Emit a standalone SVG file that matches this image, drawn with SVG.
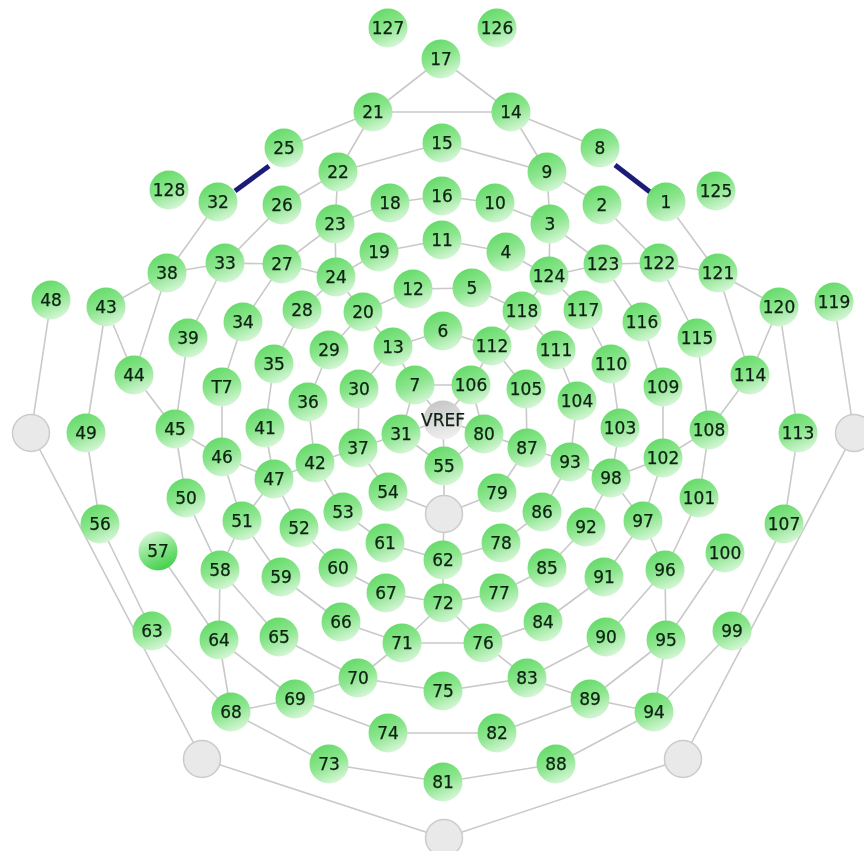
<svg xmlns="http://www.w3.org/2000/svg" width="864" height="851" viewBox="0 0 864 851">
<style>
.e{stroke:#c9c9c9;stroke-width:1.6;fill:none}
.t{stroke:#1c1c78;stroke-width:5;fill:none}
.n{fill:url(#g)}
.s{fill:url(#gs)}
.o{fill:#e9e9e9;stroke:#cbcbcb;stroke-width:1.5}
.v{fill:url(#gv)}
text{font-family:"DejaVu Sans",sans-serif;font-size:17px;fill:#0c2012;stroke:#0c2012;stroke-width:0.25;text-anchor:middle}
</style>
<defs>
<linearGradient id="g" x1="0.25" y1="0" x2="0.7" y2="1"><stop offset="0" stop-color="#62da66"/><stop offset="0.5" stop-color="#8de68f"/><stop offset="1" stop-color="#dcf7dd"/></linearGradient>
<linearGradient id="gs" x1="0.25" y1="0" x2="0.7" y2="1"><stop offset="0" stop-color="#dcf7dd"/><stop offset="0.5" stop-color="#84e487"/><stop offset="1" stop-color="#3fce48"/></linearGradient>
<linearGradient id="gv" x1="0.3" y1="0" x2="0.6" y2="1"><stop offset="0" stop-color="#c6c6c6"/><stop offset="1" stop-color="#f0f0f0"/></linearGradient>
<filter id="soft" x="-2%" y="-2%" width="104%" height="104%"><feGaussianBlur stdDeviation="0.5"/></filter>
</defs>
<rect width="864" height="851" fill="#fff"/>
<g filter="url(#soft)">
<g id="connectors">
<line class="e" x1="441" y1="59" x2="373" y2="112"/><line class="e" x1="441" y1="59" x2="511" y2="112"/><line class="e" x1="373" y1="112" x2="511" y2="112"/><line class="e" x1="373" y1="112" x2="284" y2="148"/><line class="e" x1="511" y1="112" x2="600" y2="148"/><line class="e" x1="373" y1="112" x2="338" y2="172"/><line class="e" x1="511" y1="112" x2="547" y2="172"/><line class="e" x1="338" y1="172" x2="442" y2="143"/><line class="e" x1="442" y1="143" x2="547" y2="172"/>
<line class="e" x1="338" y1="172" x2="282" y2="205"/><line class="e" x1="547" y1="172" x2="602" y2="205"/><line class="e" x1="338" y1="172" x2="335" y2="224"/><line class="e" x1="547" y1="172" x2="550" y2="224"/><line class="e" x1="335" y1="224" x2="390" y2="203"/><line class="e" x1="390" y1="203" x2="442" y2="196"/><line class="e" x1="442" y1="196" x2="495" y2="203"/><line class="e" x1="495" y1="203" x2="550" y2="224"/>
<line class="e" x1="335" y1="224" x2="282" y2="264"/><line class="e" x1="550" y1="224" x2="603" y2="264"/><line class="e" x1="335" y1="224" x2="336" y2="277"/><line class="e" x1="550" y1="224" x2="549" y2="276"/><line class="e" x1="336" y1="277" x2="379" y2="252"/><line class="e" x1="379" y1="252" x2="442" y2="240"/><line class="e" x1="442" y1="240" x2="506" y2="252"/><line class="e" x1="506" y1="252" x2="549" y2="276"/>
<line class="e" x1="282" y1="205" x2="225" y2="263"/><line class="e" x1="602" y1="205" x2="659" y2="263"/><line class="e" x1="225" y1="263" x2="282" y2="264"/><line class="e" x1="282" y1="264" x2="336" y2="277"/><line class="e" x1="549" y1="276" x2="603" y2="264"/><line class="e" x1="603" y1="264" x2="659" y2="263"/><line class="e" x1="659" y1="263" x2="718" y2="273"/>
<line class="e" x1="218" y1="202" x2="167" y2="273"/><line class="e" x1="666" y1="202" x2="718" y2="273"/><line class="e" x1="167" y1="273" x2="225" y2="263"/><line class="e" x1="718" y1="273" x2="779" y2="307"/><line class="e" x1="167" y1="273" x2="106" y2="307"/><line class="e" x1="167" y1="273" x2="134" y2="375"/><line class="e" x1="718" y1="273" x2="750" y2="375"/><line class="e" x1="779" y1="307" x2="750" y2="375"/><line class="e" x1="106" y1="307" x2="134" y2="375"/>
<line class="e" x1="225" y1="263" x2="188" y2="338"/><line class="e" x1="659" y1="263" x2="697" y2="338"/><line class="e" x1="282" y1="264" x2="243" y2="322"/><line class="e" x1="603" y1="264" x2="642" y2="322"/><line class="e" x1="336" y1="277" x2="302" y2="310"/><line class="e" x1="549" y1="276" x2="583" y2="310"/><line class="e" x1="336" y1="277" x2="363" y2="312"/><line class="e" x1="549" y1="276" x2="522" y2="311"/>
<line class="e" x1="363" y1="312" x2="413" y2="289"/><line class="e" x1="413" y1="289" x2="472" y2="288"/><line class="e" x1="472" y1="288" x2="522" y2="311"/><line class="e" x1="363" y1="312" x2="329" y2="350"/><line class="e" x1="522" y1="311" x2="492" y2="346"/><line class="e" x1="363" y1="312" x2="393" y2="347"/><line class="e" x1="522" y1="311" x2="556" y2="350"/><line class="e" x1="393" y1="347" x2="443" y2="331"/><line class="e" x1="443" y1="331" x2="492" y2="346"/>
<line class="e" x1="302" y1="310" x2="274" y2="364"/><line class="e" x1="583" y1="310" x2="611" y2="364"/><line class="e" x1="329" y1="350" x2="308" y2="402"/><line class="e" x1="556" y1="350" x2="577" y2="401"/><line class="e" x1="393" y1="347" x2="359" y2="389"/><line class="e" x1="492" y1="346" x2="526" y2="389"/><line class="e" x1="393" y1="347" x2="415" y2="385"/><line class="e" x1="492" y1="346" x2="471" y2="385"/>
<line class="e" x1="415" y1="385" x2="471" y2="385"/><line class="e" x1="415" y1="385" x2="401" y2="434"/><line class="e" x1="415" y1="385" x2="443" y2="420"/><line class="e" x1="471" y1="385" x2="443" y2="420"/><line class="e" x1="471" y1="385" x2="484" y2="434"/><line class="e" x1="359" y1="389" x2="358" y2="448"/><line class="e" x1="401" y1="434" x2="358" y2="448"/><line class="e" x1="401" y1="434" x2="443" y2="420"/><line class="e" x1="401" y1="434" x2="444" y2="466"/><line class="e" x1="443" y1="420" x2="444" y2="466"/><line class="e" x1="443" y1="420" x2="484" y2="434"/><line class="e" x1="484" y1="434" x2="444" y2="466"/><line class="e" x1="484" y1="434" x2="527" y2="448"/><line class="e" x1="526" y1="389" x2="527" y2="448"/>
<line class="e" x1="527" y1="448" x2="570" y2="462"/><line class="e" x1="527" y1="448" x2="497" y2="493"/><line class="e" x1="570" y1="462" x2="577" y2="401"/><line class="e" x1="570" y1="462" x2="611" y2="478"/><line class="e" x1="570" y1="462" x2="542" y2="512"/><line class="e" x1="611" y1="478" x2="620" y2="428"/><line class="e" x1="620" y1="428" x2="611" y2="364"/><line class="e" x1="611" y1="478" x2="663" y2="458"/><line class="e" x1="663" y1="458" x2="663" y2="387"/><line class="e" x1="663" y1="458" x2="709" y2="430"/><line class="e" x1="663" y1="387" x2="642" y2="322"/><line class="e" x1="709" y1="430" x2="750" y2="375"/><line class="e" x1="709" y1="430" x2="699" y2="498"/><line class="e" x1="709" y1="430" x2="697" y2="338"/><line class="e" x1="663" y1="458" x2="643" y2="521"/><line class="e" x1="611" y1="478" x2="643" y2="521"/><line class="e" x1="611" y1="478" x2="586" y2="527"/><line class="e" x1="643" y1="521" x2="604" y2="577"/><line class="e" x1="643" y1="521" x2="665" y2="570"/><line class="e" x1="699" y1="498" x2="665" y2="570"/><line class="e" x1="665" y1="570" x2="666" y2="640"/><line class="e" x1="665" y1="570" x2="606" y2="637"/><line class="e" x1="725" y1="553" x2="666" y2="640"/><line class="e" x1="666" y1="640" x2="654" y2="712"/><line class="e" x1="666" y1="640" x2="590" y2="699"/><line class="e" x1="732" y1="631" x2="654" y2="712"/><line class="e" x1="854" y1="433" x2="683" y2="759"/><line class="e" x1="784" y1="524" x2="732" y2="631"/><line class="e" x1="798" y1="433" x2="784" y2="524"/><line class="e" x1="779" y1="307" x2="798" y2="433"/><line class="e" x1="834" y1="302" x2="854" y2="433"/>
<line class="e" x1="31" y1="433" x2="202" y2="759"/><line class="e" x1="51" y1="300" x2="31" y2="433"/><line class="e" x1="106" y1="307" x2="86" y2="433"/><line class="e" x1="86" y1="433" x2="100" y2="524"/><line class="e" x1="100" y1="524" x2="152" y2="631"/><line class="e" x1="152" y1="631" x2="231" y2="712"/><line class="e" x1="219" y1="640" x2="231" y2="712"/><line class="e" x1="219" y1="640" x2="295" y2="699"/><line class="e" x1="231" y1="712" x2="295" y2="699"/><line class="e" x1="295" y1="699" x2="358" y2="678"/><line class="e" x1="295" y1="699" x2="388" y2="733"/><line class="e" x1="231" y1="712" x2="329" y2="764"/><line class="e" x1="329" y1="764" x2="443" y2="782"/><line class="e" x1="358" y1="678" x2="443" y2="691"/><line class="e" x1="358" y1="678" x2="279" y2="637"/><line class="e" x1="358" y1="678" x2="402" y2="643"/><line class="e" x1="402" y1="643" x2="341" y2="622"/><line class="e" x1="402" y1="643" x2="443" y2="603"/><line class="e" x1="402" y1="643" x2="483" y2="643"/><line class="e" x1="443" y1="603" x2="483" y2="643"/><line class="e" x1="388" y1="733" x2="497" y2="733"/><line class="e" x1="443" y1="691" x2="527" y2="678"/><line class="e" x1="497" y1="733" x2="590" y2="699"/><line class="e" x1="483" y1="643" x2="527" y2="678"/><line class="e" x1="483" y1="643" x2="543" y2="622"/><line class="e" x1="527" y1="678" x2="590" y2="699"/><line class="e" x1="527" y1="678" x2="606" y2="637"/><line class="e" x1="590" y1="699" x2="654" y2="712"/><line class="e" x1="556" y1="764" x2="654" y2="712"/><line class="e" x1="443" y1="782" x2="556" y2="764"/><line class="e" x1="202" y1="759" x2="444" y2="838"/><line class="e" x1="444" y1="838" x2="683" y2="759"/>
<line class="e" x1="220" y1="570" x2="219" y2="640"/><line class="e" x1="158" y1="551" x2="219" y2="640"/><line class="e" x1="220" y1="570" x2="279" y2="637"/><line class="e" x1="220" y1="570" x2="242" y2="521"/><line class="e" x1="242" y1="521" x2="274" y2="479"/><line class="e" x1="242" y1="521" x2="281" y2="577"/><line class="e" x1="186" y1="498" x2="220" y2="570"/><line class="e" x1="175" y1="429" x2="186" y2="498"/><line class="e" x1="175" y1="429" x2="134" y2="375"/><line class="e" x1="175" y1="429" x2="188" y2="338"/><line class="e" x1="175" y1="429" x2="222" y2="457"/><line class="e" x1="222" y1="457" x2="222" y2="387"/><line class="e" x1="222" y1="457" x2="274" y2="479"/><line class="e" x1="222" y1="457" x2="242" y2="521"/><line class="e" x1="274" y1="479" x2="265" y2="428"/><line class="e" x1="274" y1="479" x2="315" y2="463"/><line class="e" x1="274" y1="479" x2="299" y2="528"/><line class="e" x1="265" y1="428" x2="274" y2="364"/><line class="e" x1="222" y1="387" x2="243" y2="322"/><line class="e" x1="315" y1="463" x2="308" y2="402"/><line class="e" x1="315" y1="463" x2="358" y2="448"/><line class="e" x1="315" y1="463" x2="343" y2="512"/><line class="e" x1="358" y1="448" x2="388" y2="492"/><line class="e" x1="388" y1="492" x2="444" y2="514"/><line class="e" x1="497" y1="493" x2="444" y2="514"/><line class="e" x1="444" y1="466" x2="444" y2="514"/><line class="e" x1="444" y1="514" x2="443" y2="560"/><line class="e" x1="443" y1="560" x2="385" y2="543"/><line class="e" x1="443" y1="560" x2="501" y2="543"/><line class="e" x1="443" y1="560" x2="443" y2="603"/><line class="e" x1="385" y1="543" x2="343" y2="512"/><line class="e" x1="299" y1="528" x2="338" y2="568"/><line class="e" x1="338" y1="568" x2="386" y2="593"/><line class="e" x1="386" y1="593" x2="443" y2="603"/><line class="e" x1="443" y1="603" x2="499" y2="593"/><line class="e" x1="499" y1="593" x2="547" y2="568"/><line class="e" x1="547" y1="568" x2="586" y2="527"/><line class="e" x1="501" y1="543" x2="542" y2="512"/><line class="e" x1="543" y1="622" x2="604" y2="577"/><line class="e" x1="281" y1="577" x2="341" y2="622"/>
<line class="t" x1="269" y1="166" x2="235" y2="191"/><line class="t" x1="615" y1="165" x2="650" y2="192"/>
</g>
<g id="nodes">
<g id="n127"><circle class="n" cx="388" cy="28" r="19.5"/><text x="388" y="34">127</text></g>
<g id="n126"><circle class="n" cx="497" cy="28" r="19.5"/><text x="497" y="34">126</text></g>
<g id="n17"><circle class="n" cx="441" cy="59" r="19.5"/><text x="441" y="65">17</text></g>
<g id="n21"><circle class="n" cx="373" cy="112" r="19.5"/><text x="373" y="118">21</text></g>
<g id="n14"><circle class="n" cx="511" cy="112" r="19.5"/><text x="511" y="118">14</text></g>
<g id="n25"><circle class="n" cx="284" cy="148" r="19.5"/><text x="284" y="154">25</text></g>
<g id="n15"><circle class="n" cx="442" cy="143" r="19.5"/><text x="442" y="149">15</text></g>
<g id="n8"><circle class="n" cx="600" cy="148" r="19.5"/><text x="600" y="154">8</text></g>
<g id="n22"><circle class="n" cx="338" cy="172" r="19.5"/><text x="338" y="178">22</text></g>
<g id="n9"><circle class="n" cx="547" cy="172" r="19.5"/><text x="547" y="178">9</text></g>
<g id="n128"><circle class="n" cx="169" cy="190" r="19.5"/><text x="169" y="196">128</text></g>
<g id="n32"><circle class="n" cx="218" cy="202" r="19.5"/><text x="218" y="208">32</text></g>
<g id="n26"><circle class="n" cx="282" cy="205" r="19.5"/><text x="282" y="211">26</text></g>
<g id="n18"><circle class="n" cx="390" cy="203" r="19.5"/><text x="390" y="209">18</text></g>
<g id="n16"><circle class="n" cx="442" cy="196" r="19.5"/><text x="442" y="202">16</text></g>
<g id="n10"><circle class="n" cx="495" cy="203" r="19.5"/><text x="495" y="209">10</text></g>
<g id="n2"><circle class="n" cx="602" cy="205" r="19.5"/><text x="602" y="211">2</text></g>
<g id="n1"><circle class="n" cx="666" cy="202" r="19.5"/><text x="666" y="208">1</text></g>
<g id="n125"><circle class="n" cx="716" cy="191" r="19.5"/><text x="716" y="197">125</text></g>
<g id="n23"><circle class="n" cx="335" cy="224" r="19.5"/><text x="335" y="230">23</text></g>
<g id="n3"><circle class="n" cx="550" cy="224" r="19.5"/><text x="550" y="230">3</text></g>
<g id="n11"><circle class="n" cx="442" cy="240" r="19.5"/><text x="442" y="246">11</text></g>
<g id="n19"><circle class="n" cx="379" cy="252" r="19.5"/><text x="379" y="258">19</text></g>
<g id="n4"><circle class="n" cx="506" cy="252" r="19.5"/><text x="506" y="258">4</text></g>
<g id="n33"><circle class="n" cx="225" cy="263" r="19.5"/><text x="225" y="269">33</text></g>
<g id="n27"><circle class="n" cx="282" cy="264" r="19.5"/><text x="282" y="270">27</text></g>
<g id="n24"><circle class="n" cx="336" cy="277" r="19.5"/><text x="336" y="283">24</text></g>
<g id="n124"><circle class="n" cx="549" cy="276" r="19.5"/><text x="549" y="282">124</text></g>
<g id="n123"><circle class="n" cx="603" cy="264" r="19.5"/><text x="603" y="270">123</text></g>
<g id="n122"><circle class="n" cx="659" cy="263" r="19.5"/><text x="659" y="269">122</text></g>
<g id="n121"><circle class="n" cx="718" cy="273" r="19.5"/><text x="718" y="279">121</text></g>
<g id="n38"><circle class="n" cx="167" cy="273" r="19.5"/><text x="167" y="279">38</text></g>
<g id="n48"><circle class="n" cx="51" cy="300" r="19.5"/><text x="51" y="306">48</text></g>
<g id="n43"><circle class="n" cx="106" cy="307" r="19.5"/><text x="106" y="313">43</text></g>
<g id="n12"><circle class="n" cx="413" cy="289" r="19.5"/><text x="413" y="295">12</text></g>
<g id="n5"><circle class="n" cx="472" cy="288" r="19.5"/><text x="472" y="294">5</text></g>
<g id="n28"><circle class="n" cx="302" cy="310" r="19.5"/><text x="302" y="316">28</text></g>
<g id="n20"><circle class="n" cx="363" cy="312" r="19.5"/><text x="363" y="318">20</text></g>
<g id="n118"><circle class="n" cx="522" cy="311" r="19.5"/><text x="522" y="317">118</text></g>
<g id="n117"><circle class="n" cx="583" cy="310" r="19.5"/><text x="583" y="316">117</text></g>
<g id="n120"><circle class="n" cx="779" cy="307" r="19.5"/><text x="779" y="313">120</text></g>
<g id="n119"><circle class="n" cx="834" cy="302" r="19.5"/><text x="834" y="308">119</text></g>
<g id="n34"><circle class="n" cx="243" cy="322" r="19.5"/><text x="243" y="328">34</text></g>
<g id="n116"><circle class="n" cx="642" cy="322" r="19.5"/><text x="642" y="328">116</text></g>
<g id="n39"><circle class="n" cx="188" cy="338" r="19.5"/><text x="188" y="344">39</text></g>
<g id="n115"><circle class="n" cx="697" cy="338" r="19.5"/><text x="697" y="344">115</text></g>
<g id="n6"><circle class="n" cx="443" cy="331" r="19.5"/><text x="443" y="337">6</text></g>
<g id="n13"><circle class="n" cx="393" cy="347" r="19.5"/><text x="393" y="353">13</text></g>
<g id="n112"><circle class="n" cx="492" cy="346" r="19.5"/><text x="492" y="352">112</text></g>
<g id="n29"><circle class="n" cx="329" cy="350" r="19.5"/><text x="329" y="356">29</text></g>
<g id="n111"><circle class="n" cx="556" cy="350" r="19.5"/><text x="556" y="356">111</text></g>
<g id="n35"><circle class="n" cx="274" cy="364" r="19.5"/><text x="274" y="370">35</text></g>
<g id="n110"><circle class="n" cx="611" cy="364" r="19.5"/><text x="611" y="370">110</text></g>
<g id="n44"><circle class="n" cx="134" cy="375" r="19.5"/><text x="134" y="381">44</text></g>
<g id="n114"><circle class="n" cx="750" cy="375" r="19.5"/><text x="750" y="381">114</text></g>
<g id="nT7"><circle class="n" cx="222" cy="387" r="19.5"/><text x="222" y="393">T7</text></g>
<g id="n109"><circle class="n" cx="663" cy="387" r="19.5"/><text x="663" y="393">109</text></g>
<g id="n7"><circle class="n" cx="415" cy="385" r="19.5"/><text x="415" y="391">7</text></g>
<g id="n106"><circle class="n" cx="471" cy="385" r="19.5"/><text x="471" y="391">106</text></g>
<g id="n30"><circle class="n" cx="359" cy="389" r="19.5"/><text x="359" y="395">30</text></g>
<g id="n105"><circle class="n" cx="526" cy="389" r="19.5"/><text x="526" y="395">105</text></g>
<g id="n36"><circle class="n" cx="308" cy="402" r="19.5"/><text x="308" y="408">36</text></g>
<g id="n104"><circle class="n" cx="577" cy="401" r="19.5"/><text x="577" y="407">104</text></g>
<g id="nVREF"><circle class="v" cx="443" cy="420" r="19.5"/><text x="443" y="426">VREF</text></g>
<g id="n41"><circle class="n" cx="265" cy="428" r="19.5"/><text x="265" y="434">41</text></g>
<g id="n103"><circle class="n" cx="620" cy="428" r="19.5"/><text x="620" y="434">103</text></g>
<g id="n45"><circle class="n" cx="175" cy="429" r="19.5"/><text x="175" y="435">45</text></g>
<g id="n108"><circle class="n" cx="709" cy="430" r="19.5"/><text x="709" y="436">108</text></g>
<g id="n49"><circle class="n" cx="86" cy="433" r="19.5"/><text x="86" y="439">49</text></g>
<g id="n113"><circle class="n" cx="798" cy="433" r="19.5"/><text x="798" y="439">113</text></g>
<g id="gray-left"><circle class="o" cx="31" cy="433" r="18.5"/></g>
<g id="gray-right"><circle class="o" cx="854" cy="433" r="18.5"/></g>
<g id="n31"><circle class="n" cx="401" cy="434" r="19.5"/><text x="401" y="440">31</text></g>
<g id="n80"><circle class="n" cx="484" cy="434" r="19.5"/><text x="484" y="440">80</text></g>
<g id="n37"><circle class="n" cx="358" cy="448" r="19.5"/><text x="358" y="454">37</text></g>
<g id="n87"><circle class="n" cx="527" cy="448" r="19.5"/><text x="527" y="454">87</text></g>
<g id="n46"><circle class="n" cx="222" cy="457" r="19.5"/><text x="222" y="463">46</text></g>
<g id="n102"><circle class="n" cx="663" cy="458" r="19.5"/><text x="663" y="464">102</text></g>
<g id="n93"><circle class="n" cx="570" cy="462" r="19.5"/><text x="570" y="468">93</text></g>
<g id="n42"><circle class="n" cx="315" cy="463" r="19.5"/><text x="315" y="469">42</text></g>
<g id="n55"><circle class="n" cx="444" cy="466" r="19.5"/><text x="444" y="472">55</text></g>
<g id="n47"><circle class="n" cx="274" cy="479" r="19.5"/><text x="274" y="485">47</text></g>
<g id="n98"><circle class="n" cx="611" cy="478" r="19.5"/><text x="611" y="484">98</text></g>
<g id="n54"><circle class="n" cx="388" cy="492" r="19.5"/><text x="388" y="498">54</text></g>
<g id="n79"><circle class="n" cx="497" cy="493" r="19.5"/><text x="497" y="499">79</text></g>
<g id="n50"><circle class="n" cx="186" cy="498" r="19.5"/><text x="186" y="504">50</text></g>
<g id="n101"><circle class="n" cx="699" cy="498" r="19.5"/><text x="699" y="504">101</text></g>
<g id="n53"><circle class="n" cx="343" cy="512" r="19.5"/><text x="343" y="518">53</text></g>
<g id="n86"><circle class="n" cx="542" cy="512" r="19.5"/><text x="542" y="518">86</text></g>
<g id="gray-center"><circle class="o" cx="444" cy="514" r="18.5"/></g>
<g id="n51"><circle class="n" cx="242" cy="521" r="19.5"/><text x="242" y="527">51</text></g>
<g id="n97"><circle class="n" cx="643" cy="521" r="19.5"/><text x="643" y="527">97</text></g>
<g id="n56"><circle class="n" cx="100" cy="524" r="19.5"/><text x="100" y="530">56</text></g>
<g id="n107"><circle class="n" cx="784" cy="524" r="19.5"/><text x="784" y="530">107</text></g>
<g id="n52"><circle class="n" cx="299" cy="528" r="19.5"/><text x="299" y="534">52</text></g>
<g id="n92"><circle class="n" cx="586" cy="527" r="19.5"/><text x="586" y="533">92</text></g>
<g id="n61"><circle class="n" cx="385" cy="543" r="19.5"/><text x="385" y="549">61</text></g>
<g id="n78"><circle class="n" cx="501" cy="543" r="19.5"/><text x="501" y="549">78</text></g>
<g id="n57"><circle class="s" cx="158" cy="551" r="19.5"/><text x="158" y="557">57</text></g>
<g id="n100"><circle class="n" cx="725" cy="553" r="19.5"/><text x="725" y="559">100</text></g>
<g id="n62"><circle class="n" cx="443" cy="560" r="19.5"/><text x="443" y="566">62</text></g>
<g id="n60"><circle class="n" cx="338" cy="568" r="19.5"/><text x="338" y="574">60</text></g>
<g id="n85"><circle class="n" cx="547" cy="568" r="19.5"/><text x="547" y="574">85</text></g>
<g id="n58"><circle class="n" cx="220" cy="570" r="19.5"/><text x="220" y="576">58</text></g>
<g id="n96"><circle class="n" cx="665" cy="570" r="19.5"/><text x="665" y="576">96</text></g>
<g id="n59"><circle class="n" cx="281" cy="577" r="19.5"/><text x="281" y="583">59</text></g>
<g id="n91"><circle class="n" cx="604" cy="577" r="19.5"/><text x="604" y="583">91</text></g>
<g id="n67"><circle class="n" cx="386" cy="593" r="19.5"/><text x="386" y="599">67</text></g>
<g id="n77"><circle class="n" cx="499" cy="593" r="19.5"/><text x="499" y="599">77</text></g>
<g id="n72"><circle class="n" cx="443" cy="603" r="19.5"/><text x="443" y="609">72</text></g>
<g id="n66"><circle class="n" cx="341" cy="622" r="19.5"/><text x="341" y="628">66</text></g>
<g id="n84"><circle class="n" cx="543" cy="622" r="19.5"/><text x="543" y="628">84</text></g>
<g id="n63"><circle class="n" cx="152" cy="631" r="19.5"/><text x="152" y="637">63</text></g>
<g id="n99"><circle class="n" cx="732" cy="631" r="19.5"/><text x="732" y="637">99</text></g>
<g id="n65"><circle class="n" cx="279" cy="637" r="19.5"/><text x="279" y="643">65</text></g>
<g id="n90"><circle class="n" cx="606" cy="637" r="19.5"/><text x="606" y="643">90</text></g>
<g id="n64"><circle class="n" cx="219" cy="640" r="19.5"/><text x="219" y="646">64</text></g>
<g id="n95"><circle class="n" cx="666" cy="640" r="19.5"/><text x="666" y="646">95</text></g>
<g id="n71"><circle class="n" cx="402" cy="643" r="19.5"/><text x="402" y="649">71</text></g>
<g id="n76"><circle class="n" cx="483" cy="643" r="19.5"/><text x="483" y="649">76</text></g>
<g id="n70"><circle class="n" cx="358" cy="678" r="19.5"/><text x="358" y="684">70</text></g>
<g id="n83"><circle class="n" cx="527" cy="678" r="19.5"/><text x="527" y="684">83</text></g>
<g id="n75"><circle class="n" cx="443" cy="691" r="19.5"/><text x="443" y="697">75</text></g>
<g id="n69"><circle class="n" cx="295" cy="699" r="19.5"/><text x="295" y="705">69</text></g>
<g id="n89"><circle class="n" cx="590" cy="699" r="19.5"/><text x="590" y="705">89</text></g>
<g id="n68"><circle class="n" cx="231" cy="712" r="19.5"/><text x="231" y="718">68</text></g>
<g id="n94"><circle class="n" cx="654" cy="712" r="19.5"/><text x="654" y="718">94</text></g>
<g id="n74"><circle class="n" cx="388" cy="733" r="19.5"/><text x="388" y="739">74</text></g>
<g id="n82"><circle class="n" cx="497" cy="733" r="19.5"/><text x="497" y="739">82</text></g>
<g id="n73"><circle class="n" cx="329" cy="764" r="19.5"/><text x="329" y="770">73</text></g>
<g id="n88"><circle class="n" cx="556" cy="764" r="19.5"/><text x="556" y="770">88</text></g>
<g id="gray-bottom-left"><circle class="o" cx="202" cy="759" r="18.5"/></g>
<g id="gray-bottom-right"><circle class="o" cx="683" cy="759" r="18.5"/></g>
<g id="n81"><circle class="n" cx="443" cy="782" r="19.5"/><text x="443" y="788">81</text></g>
<g id="gray-bottom"><circle class="o" cx="444" cy="838" r="18.5"/></g>
</g>
</g>
</svg>
